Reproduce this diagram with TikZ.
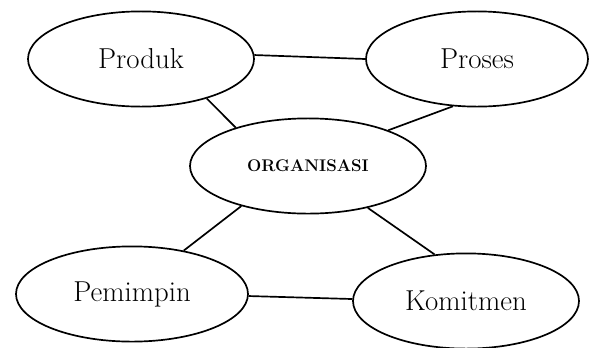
\documentclass[tikz,border=0pt]{standalone}
\usepackage{amsfonts, amssymb, amsmath}
\usepackage{tikz}
\usetikzlibrary{shapes.geometric}
\usepackage{xcolor}

\begin{document}
\begin{tikzpicture}[bubble/.style={ellipse, draw, line width=1.2pt, inner sep=0pt, minimum width=5.65cm, minimum height=2.38cm, font=\fontsize{20.5}{22}\selectfont}]
                \useasboundingbox (0,0) rectangle (14.75,8.675);
                \node[bubble] (produk) at (3.525,7.2) {Produk};
                \node[bubble, minimum width=5.55cm] (proses) at (11.925,7.2) {Proses};
                \node[bubble, minimum width=5.9cm, font=\fontsize{12}{14}\selectfont\bfseries] (org) at (7.7,4.525) {ORGANISASI};
                \node[bubble, minimum width=5.8cm] (pemimpin) at (3.3,1.325) {Pemimpin};
                \node[bubble] (komitmen) at (11.65,1.15) {Komitmen};
                \draw[line width=1.2pt] (produk.2) -- (proses.180);
                \draw[line width=1.2pt] (produk.329) -- (org.152);
                \draw[line width=1.2pt] (proses.243) -- (org.24);
                \draw[line width=1.2pt] (org.211) -- (pemimpin.40);
                \draw[line width=1.2pt] (org.325) -- (komitmen.124);
                \draw[line width=1.2pt] (pemimpin.359) -- (komitmen.179);
            \end{tikzpicture}
\end{document}
